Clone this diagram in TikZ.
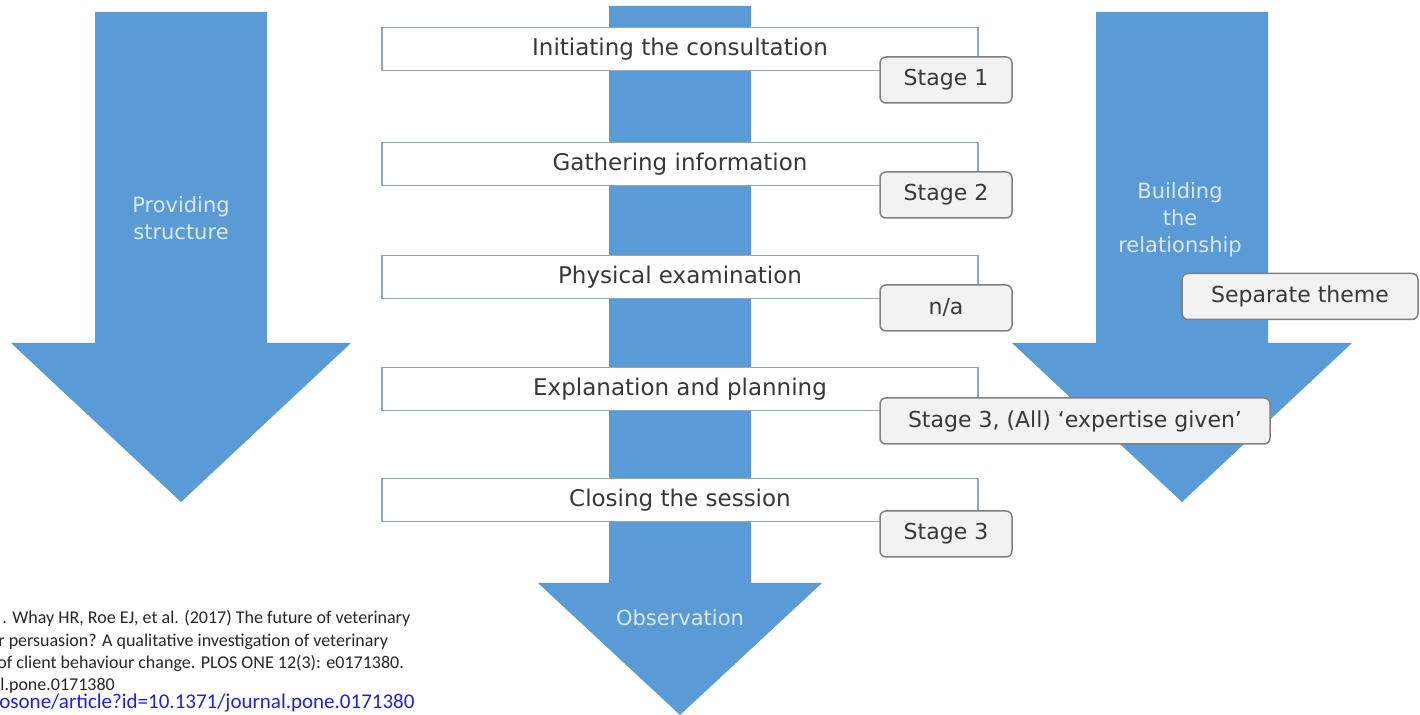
\documentclass[tikz,border=0pt]{standalone}
\usepackage{fontspec}
\setmainfont{DejaVu Sans}
\newfontfamily\citefont{Carlito}
\definecolor{bleuFleche}{HTML}{5B9BD5}
\definecolor{bordBoite}{HTML}{8FA6BF}
\definecolor{bordEtiq}{HTML}{808080}
\definecolor{fondEtiq}{HTML}{F2F2F2}
\definecolor{texteGris}{HTML}{383838}
\definecolor{texteClair}{HTML}{D9E8F6}
\definecolor{lienBleu}{HTML}{1F1FE6}

\begin{document}
\begin{tikzpicture}[x=0.5pt,y=-0.5pt]
\tikzstyle{fleche} = [fill=bleuFleche];
\tikzstyle{boite} = [draw=bordBoite,line width=0.75pt,fill=white,minimum width=298pt,minimum height=21.5pt,inner sep=0pt,text=texteGris,font=\fontsize{11.5}{14}\selectfont];
\tikzstyle{etiquette} = [draw=bordEtiq,line width=0.75pt,fill=fondEtiq,rounded corners=3pt,minimum height=23pt,inner sep=0pt,text=texteGris,font=\fontsize{11}{13}\selectfont];
\tikzstyle{titre} = [text=texteClair,align=center,font=\fontsize{10.5}{13.5}\selectfont];
\tikzstyle{citation} = [anchor=base west,inner sep=0pt,text=black!85,font=\citefont\fontsize{9}{11}\selectfont];

\useasboundingbox (0,0) rectangle (1420,715);

% les trois fleches
\fill[fleche] (609,6) -- (751,6) -- (751,583) -- (822,583) -- (680,715) -- (538,583) -- (609,583) -- cycle;
\foreach \c in {181,1182}{
	\fill[fleche] ({\c-86},12) -- ({\c+86},12) -- ({\c+86},343) -- ({\c+170},343) -- (\c,502) -- ({\c-170},343) -- ({\c-86},343) -- cycle;
}

\node[titre] (structure) at (181,218) {Providing\\structure};
\node[titre] (relation) at (1180,220) {Building\\the\\relationship};
\node[titre] (observation) at (680,618) {Observation};

\foreach \i/\y/\txt in {1/49/Initiating the consultation,2/164/Gathering information,3/277/Physical examination,4/389/Explanation and planning,5/500/Closing the session}{
	\node[boite] (etape\i) at (680,\y) {\txt};
}

\foreach \i/\y/\lab in {1/80/Stage 1,2/195/Stage 2,3/308/{n/a},5/534/Stage 3}{
	\node[etiquette,minimum width=66pt] (stade\i) at (946,\y) {\lab};
}
\node[etiquette,minimum width=195pt] (stade4) at (1075,421) {Stage 3, (All) ‘expertise given’};
\node[etiquette,minimum width=118pt] (theme) at (1300,296.5) {Separate theme};

% reference
\node[citation] (ref1) at (2,624) {. Whay HR, Roe EJ, et al. (2017) The future of veterinary};
\node[citation] (ref2) at (-2,646.5) {r persuasion? A qualitative investigation of veterinary};
\node[citation] (ref3) at (-3,669) {of client behaviour change. PLOS ONE 12(3): e0171380.};
\node[citation] (ref4) at (0,691) {l.pone.0171380};
\node[citation,text=lienBleu,font=\citefont\fontsize{10.5}{12}\selectfont] (ref5) at (-1,709) {osone/article?id=10.1371/journal.pone.0171380};

\end{tikzpicture}
\end{document}
